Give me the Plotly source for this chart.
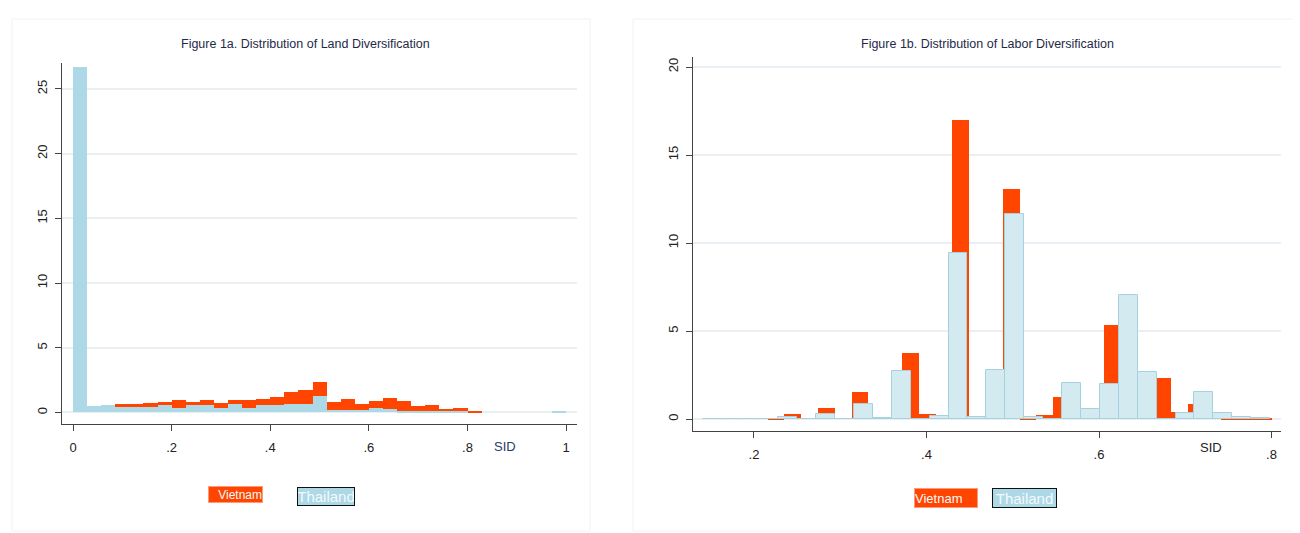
import plotly.graph_objects as go

# ---------------- data ----------------
# Figure 1a: Land diversification (SID), 35 bins from 0 to 1
land_bin_start = 0.0
land_bin_width = 1.0 / 35
land_vietnam = [13.0, 0.50, 0.59, 0.69, 0.62, 0.72, 0.82, 1.00, 0.82, 0.93,
                0.75, 0.93, 0.93, 1.05, 1.23, 1.57, 1.70, 2.34, 0.82, 1.08,
                0.69, 0.90, 1.10, 0.90, 0.51, 0.59, 0.28, 0.36, 0.15, 0.0,
                0.0, 0.0, 0.0, 0.0, 0.05]
land_thailand = [26.7, 0.49, 0.57, 0.44, 0.44, 0.41, 0.54, 0.33, 0.54, 0.54,
                 0.33, 0.62, 0.33, 0.59, 0.54, 0.67, 0.67, 1.31, 0.18, 0.23,
                 0.23, 0.31, 0.26, 0.15, 0.05, 0.05, 0.15, 0.05, 0.0, 0.0,
                 0.0, 0.0, 0.0, 0.0, 0.15]

# Figure 1b: Labor diversification (SID), 30 bins each
labor_vn_start = 0.2157
labor_vn_width = 0.01948
labor_vietnam = [0.08, 0.28, 0.0, 0.63, 0.0, 1.55, 0.0, 0.0, 3.75, 0.30,
                 0.0, 17.0, 0.19, 2.2, 13.05, 0.10, 0.25, 1.23, 0.4, 0.3,
                 5.36, 1.0, 1.0, 2.33, 0.42, 0.85, 0.3, 0.03, 0.03, 0.03]
labor_th_start = 0.1405
labor_th_width = 0.02193
labor_thailand = [0.02, 0.0, 0.02, 0.0, 0.11, 0.0, 0.27, 0.0, 0.85, 0.06,
                  2.75, 0.0, 0.19, 9.45, 0.10, 2.78, 11.65, 0.10, 0.03, 2.06,
                  0.57, 1.99, 7.05, 2.69, 0.0, 0.34, 1.53, 0.34, 0.11, 0.06]

land_xticks = [0, 0.2, 0.4, 0.6, 0.8, 1.0]
land_xlabels = ["0", ".2", ".4", ".6", ".8", "1"]
land_yticks = [0, 5, 10, 15, 20, 25]
labor_xticks = [0.2, 0.4, 0.6, 0.8]
labor_xlabels = [".2", ".4", ".6", ".8"]
labor_yticks = [0, 5, 10, 15, 20]

titles = ["Figure 1a. Distribution of Land Diversification",
          "Figure 1b. Distribution of Labor Diversification"]
series_names = ["Vietnam", "Thailand"]
xlabel = "SID"

# ---------------- styles ----------------
ORANGE = "#FF4500"
LBLUE = "#ADD8E6"
LBLUE2 = "#D4EAF1"
LBLUE2_LINE = "#A6D2DF"
GRID = "#E9EFF3"
AXIS = "#444444"
NARROW = "Liberation Sans Narrow, Arial Narrow, Liberation Sans, Arial, sans-serif"
SANS = "Liberation Sans, Arial, sans-serif"

W, H = 1300, 533
OFF = 8  # page body margin offset


def centers(start, width, n):
    return [start + width * (i + 0.5) for i in range(n)]


fig = go.Figure()

# Left panel
fig.add_trace(go.Bar(x=centers(land_bin_start, land_bin_width, len(land_vietnam)),
                     y=land_vietnam, width=land_bin_width, name=series_names[0],
                     marker=dict(color=ORANGE, line=dict(width=0)),
                     xaxis="x", yaxis="y", showlegend=False))
fig.add_trace(go.Bar(x=centers(land_bin_start, land_bin_width, len(land_thailand)),
                     y=land_thailand, width=land_bin_width, name=series_names[1],
                     marker=dict(color=LBLUE, line=dict(width=0)),
                     xaxis="x", yaxis="y", showlegend=False))

# Right panel
fig.add_trace(go.Bar(x=centers(labor_vn_start, labor_vn_width, len(labor_vietnam)),
                     y=labor_vietnam, width=labor_vn_width, name=series_names[0],
                     marker=dict(color=ORANGE, line=dict(width=0)),
                     xaxis="x2", yaxis="y2", showlegend=False))
fig.add_trace(go.Bar(x=centers(labor_th_start, labor_th_width, len(labor_thailand)),
                     y=labor_thailand, width=labor_th_width, name=series_names[1],
                     marker=dict(color=LBLUE2, line=dict(color=LBLUE2_LINE, width=1)),
                     xaxis="x2", yaxis="y2", showlegend=False))


def px_x(v):
    return (v - OFF) / W


def px_y(v):
    return 1 - (v - OFF) / H


axis_common = dict(showline=True, linecolor=AXIS, linewidth=1, ticks="outside",
                   ticklen=6, tickcolor=AXIS, zeroline=False,
                   tickfont=dict(family=SANS, size=13, color="#222222"))

fig.update_layout(
    width=W, height=H,
    margin=dict(l=0, r=0, t=0, b=0),
    paper_bgcolor="white", plot_bgcolor="white",
    barmode="overlay", bargap=0,
    showlegend=False,
    xaxis=dict(domain=[px_x(62), px_x(577)], range=[-0.0223, 1.022],
               tickvals=land_xticks, ticktext=land_xlabels, showgrid=False,
               ticklabelstandoff=5, anchor="y", **axis_common),
    yaxis=dict(domain=[px_y(424), px_y(63)], range=[-0.89, 27.0],
               tickvals=land_yticks, tickangle=-90, showgrid=True,
               gridcolor=GRID, gridwidth=1.5, ticklabelstandoff=3,
               anchor="x", **axis_common),
    xaxis2=dict(domain=[px_x(693), px_x(1281)], range=[0.1293, 0.811],
                tickvals=labor_xticks, ticktext=labor_xlabels, showgrid=False,
                ticklabelstandoff=5, anchor="y2", **axis_common),
    yaxis2=dict(domain=[px_y(431), px_y(57)], range=[-0.68, 20.57],
                tickvals=labor_yticks, tickangle=-90, showgrid=True,
                gridcolor=GRID, gridwidth=1.5, ticklabelstandoff=3,
                anchor="x2", **axis_common),
)

# Panel frames
fig.add_shape(type="rect", xref="paper", yref="paper",
              x0=px_x(12), x1=px_x(590), y0=px_y(531), y1=px_y(19),
              line=dict(color="#F2F2F2", width=1), layer="below")
fig.add_shape(type="rect", xref="paper", yref="paper",
              x0=px_x(633), x1=px_x(1297), y0=px_y(531), y1=px_y(19),
              line=dict(color="#F2F2F2", width=1), layer="below")

# Titles
for t, cx in zip(titles, [305, 987]):
    fig.add_annotation(text=t, xref="paper", yref="paper", x=px_x(cx), y=px_y(44),
                       xanchor="center", yanchor="middle", showarrow=False,
                       font=dict(family=NARROW, size=12.5, color="#1F2A48"))

# SID labels
fig.add_annotation(text=xlabel, xref="paper", yref="paper", x=px_x(505), y=px_y(446),
                   xanchor="center", yanchor="middle", showarrow=False,
                   font=dict(family=NARROW, size=13, color="#2B3A67"))
fig.add_annotation(text=xlabel, xref="paper", yref="paper", x=px_x(1211), y=px_y(447),
                   xanchor="center", yanchor="middle", showarrow=False,
                   font=dict(family=SANS, size=13, color="#222222"))

# Legend boxes
legend_specs = [
    # name, cx, cy, w, h, bg, border, fontsize, align
    (series_names[0], 235.5, 494.5, 53, 15, ORANGE, "#FF9B7A", 12, "right"),
    (series_names[1], 326, 496.5, 56, 17, LBLUE, "#111111", 15, "center"),
    (series_names[0], 946, 498, 62, 18, ORANGE, "#FF9B7A", 13, "left"),
    (series_names[1], 1024.5, 498, 63, 18, LBLUE, "#111111", 15, "center"),
]
for name, cx, cy, w, h, bg, bc, fs, al in legend_specs:
    fig.add_annotation(text=name, xref="paper", yref="paper", x=px_x(cx), y=px_y(cy),
                       xanchor="center", yanchor="middle", showarrow=False,
                       width=w, height=h, align=al, valign="middle",
                       bgcolor=bg, bordercolor=bc, borderwidth=1, borderpad=0,
                       font=dict(family=NARROW if fs < 14 else SANS, size=fs,
                                 color="#F4FAFC"))

fig.write_html("out.html")
